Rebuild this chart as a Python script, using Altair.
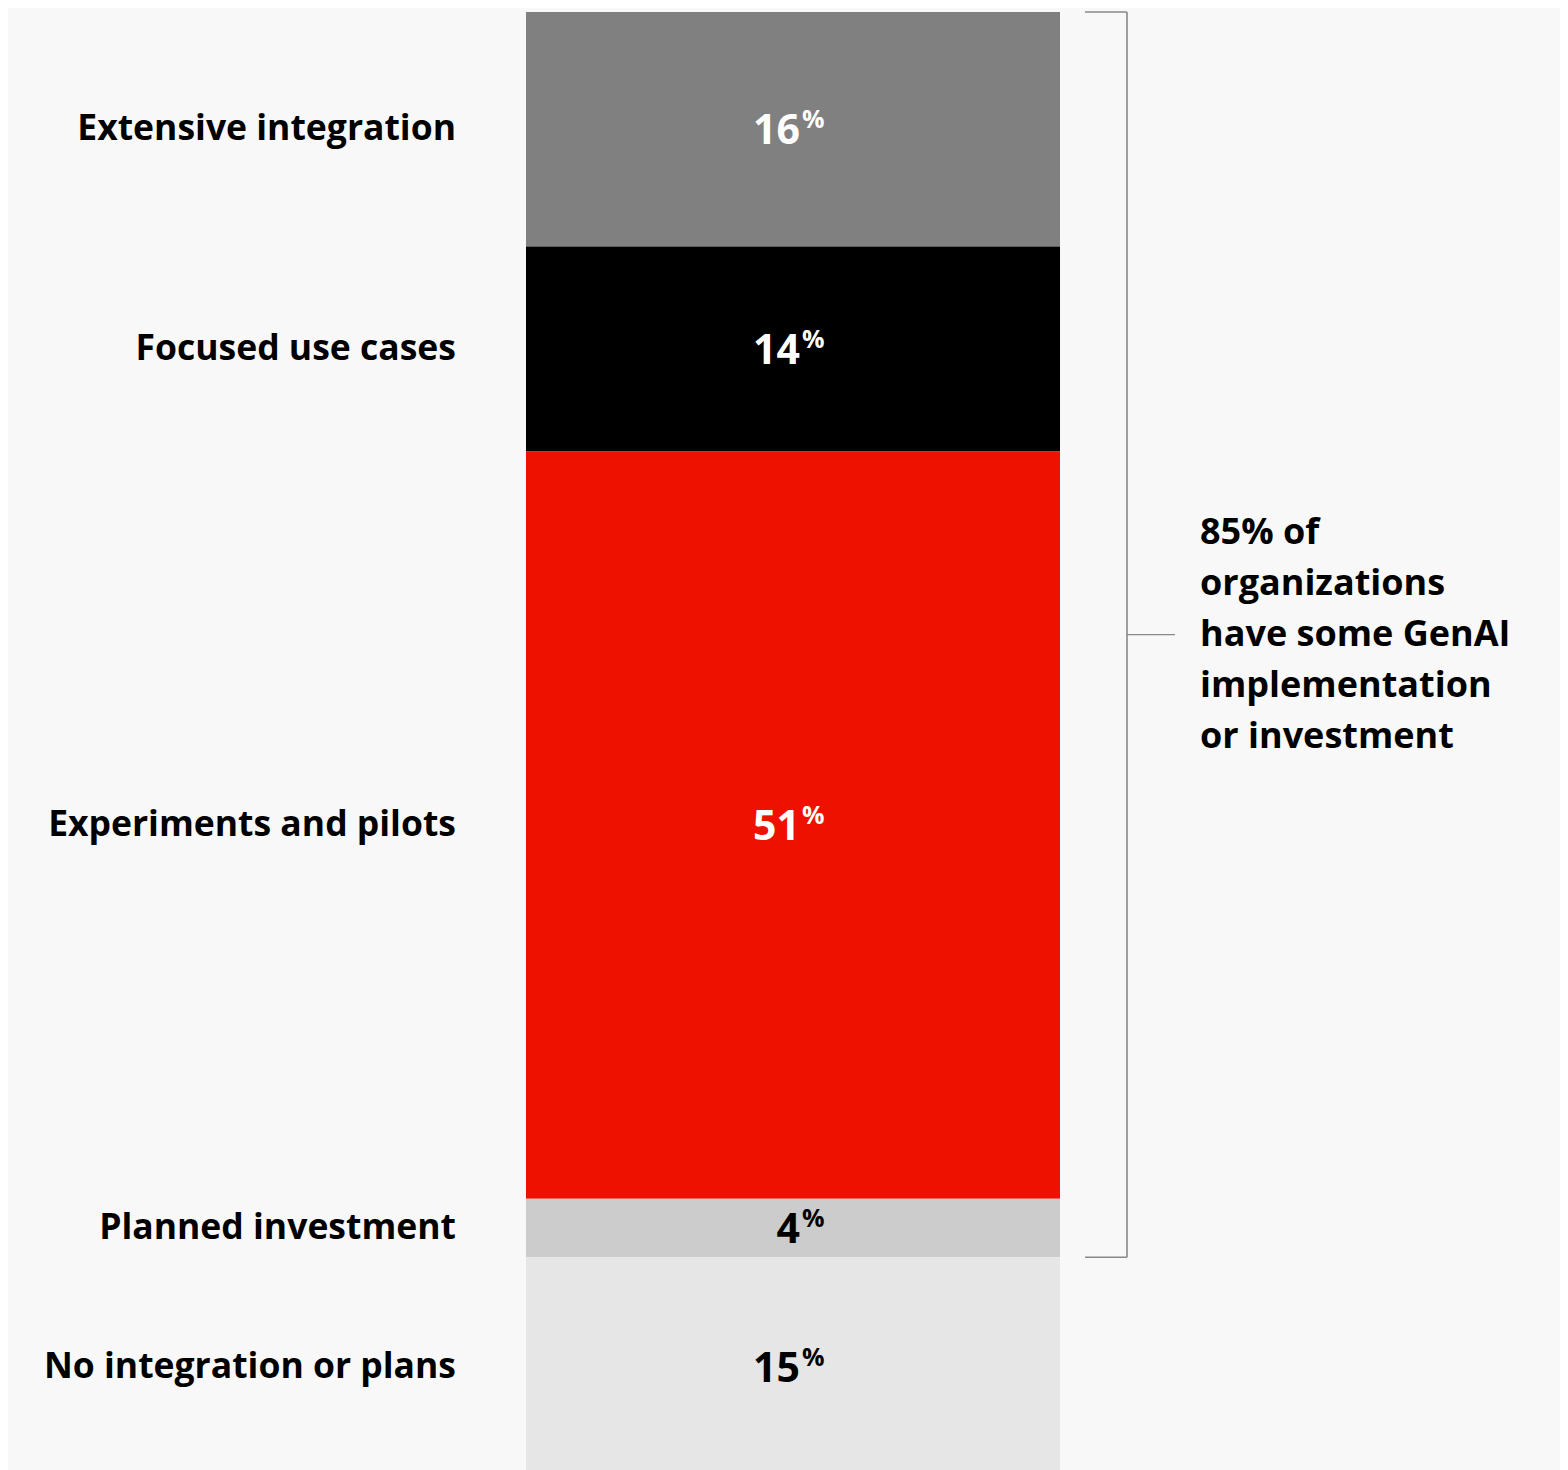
import altair as alt
import pandas as pd

categories = ["Extensive integration", "Focused use cases", "Experiments and pilots",
              "Planned investment", "No integration or plans"]
values = [16, 14, 51, 4, 15]
colors = ["#808080", "#000000", "#EE1100", "#CCCCCC", "#E6E6E6"]
text_colors = ["#FFFFFF", "#FFFFFF", "#FFFFFF", "#000000", "#000000"]
annotation = ["85% of", "organizations", "have some GenAI", "implementation", "or investment"]
bracket_count = 4  # first four segments are bracketed

df = pd.DataFrame({"category": categories, "value": values,
                   "color": colors, "tcolor": text_colors})
df["start"] = df["value"].cumsum() - df["value"]
df["end"] = df["value"].cumsum()
df["mid"] = (df["start"] + df["end"]) / 2
df["num"] = df["value"].astype(str)
df["pct"] = "%"

bracket_total = float(sum(values[:bracket_count]))
bdf = pd.DataFrame({"y0": [0.0], "y1": [bracket_total], "ym": [bracket_total / 2],
                    "text": [annotation]})

FONT = "Open Sans"
yscale = alt.Scale(domain=[0, 100], range=[4, 1469])
base = alt.Chart(df)

bars = base.mark_bar().encode(
    x=alt.value(518), x2=alt.value(1052),
    y=alt.Y("start:Q", scale=yscale, axis=None),
    y2="end:Q",
    color=alt.Color("color:N", scale=None),
)

labels = base.mark_text(align="right", baseline="middle", font=FONT, fontSize=35.5,
                        fontWeight="bold", color="#000000").encode(
    x=alt.value(448), y=alt.Y("mid:Q", scale=yscale, axis=None), text="category:N")

nums = base.mark_text(align="right", baseline="alphabetic", dy=15, font=FONT,
                      fontSize=41, fontWeight="bold").encode(
    x=alt.value(792), y=alt.Y("mid:Q", scale=yscale, axis=None), text="num:N",
    color=alt.Color("tcolor:N", scale=None))

pcts = base.mark_text(align="left", baseline="alphabetic", dy=-1, font=FONT,
                      fontSize=25, fontWeight="bold").encode(
    x=alt.value(794), y=alt.Y("mid:Q", scale=yscale, axis=None), text="pct:N",
    color=alt.Color("tcolor:N", scale=None))

bb = alt.Chart(bdf)
vline = bb.mark_rule(color="#888888", strokeWidth=1.6).encode(
    x=alt.value(1119), y=alt.Y("y0:Q", scale=yscale, axis=None), y2="y1:Q")
top_tick = bb.mark_rule(color="#888888", strokeWidth=1.6).encode(
    x=alt.value(1077), x2=alt.value(1119), y=alt.Y("y0:Q", scale=yscale, axis=None))
bot_tick = bb.mark_rule(color="#888888", strokeWidth=1.6).encode(
    x=alt.value(1077), x2=alt.value(1119), y=alt.Y("y1:Q", scale=yscale, axis=None))
mid_tick = bb.mark_rule(color="#888888", strokeWidth=1.2).encode(
    x=alt.value(1119), x2=alt.value(1167), y=alt.Y("ym:Q", scale=yscale, axis=None))
note = bb.mark_text(align="left", baseline="middle", font=FONT, fontSize=36,
                    fontWeight="bold", lineHeight=51, dy=-102, color="#000000").encode(
    x=alt.value(1192), y=alt.Y("ym:Q", scale=yscale, axis=None), text="text")

chart = alt.layer(bars, labels, nums, pcts, vline, top_tick, bot_tick, mid_tick, note).properties(
    width=1552, height=1462, padding=0, background="#F8F8F8"
).configure_view(stroke=None)

chart.save("out.html", embed_options={"renderer": "svg", "actions": False})
